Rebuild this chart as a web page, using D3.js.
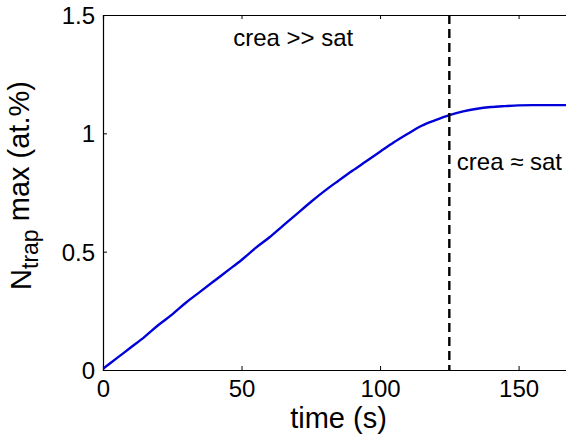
<!DOCTYPE html>
<html>
<head>
<meta charset="utf-8">
<script src="https://cdn.jsdelivr.net/npm/d3@7"></script>
<style>
  body { margin: 0; background: #fff; }
  text { font-family: "Liberation Sans", Arial, sans-serif; fill: #000; }
</style>
</head>
<body>
<div id="chart"></div>
<script>
// data
var timeS = [0, 5, 10, 15, 20, 25, 30, 35, 40, 45, 50, 55, 60, 65, 70, 75, 80, 85, 90, 95,
             100, 105, 110, 115, 120, 125, 130, 135, 140, 145, 150, 155, 160, 165, 170];
var nTrapMax = [0.005, 0.05, 0.095, 0.14, 0.19, 0.235, 0.285, 0.33, 0.375, 0.42, 0.465, 0.515,
                0.56, 0.61, 0.66, 0.71, 0.757, 0.80, 0.842, 0.882, 0.922, 0.962, 0.998, 1.032,
                1.056, 1.077, 1.093, 1.104, 1.111, 1.115, 1.118, 1.119, 1.119, 1.119, 1.119];
var xTicks = [0, 50, 100, 150];
var yTicks = [0, 0.5, 1, 1.5];
var saturationTime = 125;
var noteLabels = ["crea >> sat", "crea \u2248 sat"];
var noteTimes = [47, 127.7];
var noteValues = [1.371, 0.843];

// set the dimensions and margins of the graph
var margin = {top: 15, right: -8, bottom: 70, left: 103},
    width = 566 - margin.left - margin.right,
    height = 440 - margin.top - margin.bottom;

var x = d3.scaleLinear().domain([0, 170]).range([0, width]);
var y = d3.scaleLinear().domain([0, 1.5]).range([height, 0]);

var svg = d3.select("#chart").append("svg")
    .attr("width", 566)
    .attr("height", 440)
  .append("g")
    .attr("transform", "translate(" + margin.left + "," + margin.top + ")");

// axes with inward ticks, like matlab
var fmt = function(d) { return d; };
var xAxisBottom = svg.append("g")
    .attr("transform", "translate(0," + height + ")")
    .call(d3.axisBottom(x).tickValues(xTicks).tickSize(-4).tickPadding(10).tickFormat(fmt));
var xAxisTop = svg.append("g")
    .call(d3.axisTop(x).tickValues(xTicks).tickSize(-4).tickFormat(""));
var yAxisLeft = svg.append("g")
    .call(d3.axisLeft(y).tickValues(yTicks).tickSize(-4).tickPadding(8).tickFormat(fmt));

[xAxisBottom, xAxisTop, yAxisLeft].forEach(function(a) {
  a.select(".domain").attr("stroke", "#000").attr("stroke-width", 1.2);
  a.selectAll(".tick line").attr("stroke", "#000");
  a.selectAll(".tick text").style("font-size", "24px").attr("fill", "#000");
});
yAxisLeft.selectAll(".tick text").attr("dy", "0.36em");
xAxisBottom.selectAll(".tick text").attr("dy", "0.72em");

// clip so the curve stops at the visible frame
svg.append("clipPath").attr("id", "clip")
  .append("rect").attr("width", width).attr("height", height);

var data = timeS.map(function(t, i) { return {t: t, v: nTrapMax[i]}; });

svg.append("path")
    .datum(data)
    .attr("clip-path", "url(#clip)")
    .attr("fill", "none")
    .attr("stroke", "#0000d8")
    .attr("stroke-width", 2.4)
    .attr("d", d3.line()
      .x(function(d) { return x(d.t); })
      .y(function(d) { return y(d.v); })
      .curve(d3.curveMonotoneX));

// vertical dashed line
svg.append("line")
    .attr("x1", x(saturationTime)).attr("x2", x(saturationTime))
    .attr("y1", y(1.5)).attr("y2", y(0))
    .attr("stroke", "#000")
    .attr("stroke-width", 2.4)
    .attr("stroke-dasharray", "9,5");

// annotations
noteLabels.forEach(function(s, i) {
  svg.append("text")
      .attr("x", x(noteTimes[i]))
      .attr("y", y(noteValues[i]))
      .style("font-size", "24px")
      .text(s);
});

// axis labels
svg.append("text")
    .attr("x", x(85))
    .attr("y", height + 58)
    .attr("text-anchor", "middle")
    .style("font-size", "29px")
    .text("time (s)");

var yl = svg.append("text")
    .attr("transform", "translate(-72," + (height / 2 - 7) + ") rotate(-90)")
    .attr("text-anchor", "middle")
    .style("font-size", "29px");
yl.append("tspan").text("N");
yl.append("tspan").attr("dy", "0.3em").style("font-size", "23px").text("trap");
yl.append("tspan").attr("dy", "-0.3em").text(" max (at.%)");
</script>
</body>
</html>
